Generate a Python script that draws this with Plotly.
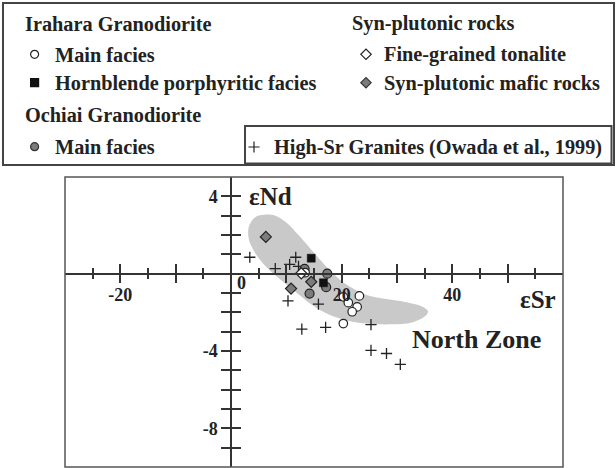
import plotly.graph_objects as go

# ---------------- data ----------------
irahara_main_x = [13.4, 20.3, 23.2, 21.2, 22.8, 21.9, 20.3]
irahara_main_y = [0.05, -1.2, -1.15, -1.5, -1.72, -1.97, -2.58]

hbl_porph_x = [14.5, 16.7]
hbl_porph_y = [0.8, -0.47]

ochiai_main_x = [13.3, 17.4, 17.2, 14.2]
ochiai_main_y = [0.25, 0.0, -0.7, -1.03]

tonalite_x = [12.7]
tonalite_y = [0.02]

mafic_x = [6.3, 10.85, 14.5]
mafic_y = [1.9, -0.77, -0.42]

high_sr_x = [3.4, 8.0, 11.7, 10.6, 12.2, 10.3, 15.8, 12.8, 17.1, 25.3, 25.3, 28.1, 30.6]
high_sr_y = [0.85, 0.26, 0.85, 0.48, 0.38, -1.41, -1.58, -2.87, -2.78, -2.64, -3.97, -4.13, -4.69]

# North Zone field outline
zone_x = [6.0, 8.0, 10.0, 12.2, 14.8, 17.6, 20.5, 24.5, 27.7, 31.5, 34.5, 35.6, 35.0, 32.7,
          29.0, 24.0, 20.5, 17.5, 15.0, 12.0, 8.8, 6.2, 4.3, 3.2, 3.3, 4.5, 6.0]
zone_y = [3.05, 3.0, 2.65, 2.0, 1.15, 0.25, -0.5, -1.1, -1.3, -1.47, -1.7, -1.95, -2.22, -2.52,
          -2.62, -2.57, -2.38, -2.08, -1.68, -1.02, -0.27, 0.4, 1.1, 1.8, 2.5, 2.95, 3.05]

x_major = [-20, -10, 10, 20, 30, 40, 50]
x_major_text = ["-20", "", "", "20", "", "40", ""]
x_minor = [-25, -15, -5, 5, 15, 25, 35, 45, 55]
y_major = [-8, -4, 4]
y_major_text = ["-8", "-4", "4"]
y_minor = [-9, -7, -6, -5, -3, -2, -1, 1, 2, 3]

# ---------------- layout geometry ----------------
W, H = 616, 468
plot_left, plot_right, plot_top, plot_bottom = 65, 563, 177, 467
xr = [-30, 60]
yr = [-10, 5]
xdom = [plot_left / W, plot_right / W]
ydom = [(H - plot_bottom) / H, (H - plot_top) / H]
xaxis_pos = ydom[0] + (0 - yr[0]) / (yr[1] - yr[0]) * (ydom[1] - ydom[0])
yaxis_pos = xdom[0] + (0 - xr[0]) / (xr[1] - xr[0]) * (xdom[1] - xdom[0])

FONT = "Liberation Serif"
TXT = "#222222"
AX = "#333333"
GREY = "#7c7c7c"

fig = go.Figure()

# shaded field
fig.add_trace(go.Scatter(x=zone_x, y=zone_y, mode="lines", fill="toself",
                         fillcolor="#c9c9c9", line=dict(color="rgba(0,0,0,0)", width=0, shape="spline", smoothing=1.0),
                         hoverinfo="skip", showlegend=False))

def pts(x, y, symbol, color, size, lcolor="#222", lw=1.2):
    return go.Scatter(x=x, y=y, mode="markers", showlegend=False,
                      marker=dict(symbol=symbol, color=color, size=size,
                                  line=dict(color=lcolor, width=lw)))

fig.add_trace(pts(high_sr_x, high_sr_y, "cross-thin", "#222", 8, "#222", 1.3))
fig.add_trace(pts(mafic_x, mafic_y, "diamond", GREY, 8.5))
fig.add_trace(pts(ochiai_main_x, ochiai_main_y, "circle", GREY, 9))
fig.add_trace(pts(hbl_porph_x, hbl_porph_y, "square", "#111", 8, "#111", 0.5))
fig.add_trace(pts(irahara_main_x, irahara_main_y, "circle", "white", 8.5))
fig.add_trace(pts(tonalite_x, tonalite_y, "diamond", "white", 8.5))

# dummy trace to register second (mirror) axes
fig.add_trace(go.Scatter(x=[None], y=[None], xaxis="x2", yaxis="y2", showlegend=False, hoverinfo="skip"))

# ---------------- legend block ----------------
leg_sym_x = [34.6, 34.6, 34.6, 366, 366, 254]
leg_sym_y = [54.3, 82.7, 146.7, 54.3, 82.7, 147]
leg_symbols = ["circle", "square", "circle", "diamond", "diamond", "cross-thin"]
leg_colors = ["white", "#111", GREY, "white", GREY, "#222"]
leg_lines = ["#222", "#111", "#333", "#222", "#333", "#222"]
fig.add_trace(go.Scatter(x=leg_sym_x, y=leg_sym_y, xaxis="x3", yaxis="y3", mode="markers",
                         showlegend=False, hoverinfo="skip",
                         marker=dict(symbol=leg_symbols, color=leg_colors, size=8,
                                     line=dict(color=leg_lines, width=1.2))))

leg_texts = [
    ("Irahara Granodiorite", 23, 23.5),
    ("Main facies", 53, 54.5),
    ("Hornblende porphyritic facies", 53, 83),
    ("Ochiai Granodiorite", 23, 115),
    ("Main facies", 53, 147),
    ("Syn-plutonic rocks", 349.5, 23.5),
    ("Fine-grained tonalite", 382, 54.5),
    ("Syn-plutonic mafic rocks", 382, 83),
    ("High-Sr Granites (Owada et al., 1999)", 271.5, 147),
]

annotations = []
for t, px, py in leg_texts:
    annotations.append(dict(text=t, xref="paper", yref="paper", x=px / W, y=1 - py / H,
                            xanchor="left", yanchor="middle", showarrow=False,
                            font=dict(family=FONT, size=20.3, color=TXT, weight="bold")))

# axis titles and field label (data coordinates)
annotations += [
    dict(text="εNd", x=7.05, y=4.0, xref="x", yref="y", showarrow=False,
         font=dict(family=FONT, size=25, color=TXT, weight="bold")),
    dict(text="εSr", x=55.4, y=-1.36, xref="x", yref="y", showarrow=False,
         font=dict(family=FONT, size=25, color=TXT, weight="bold")),
    dict(text="North Zone", x=44.4, y=-3.39, xref="x", yref="y", showarrow=False,
         font=dict(family=FONT, size=26, color=TXT, weight="bold")),
    dict(text="0", x=1.93, y=-0.46, xref="x", yref="y", showarrow=False,
         font=dict(family=FONT, size=18, color=TXT, weight="bold")),
]

shapes = [
    dict(type="rect", xref="paper", yref="paper", x0=xdom[0], x1=xdom[1], y0=ydom[0], y1=ydom[1],
         line=dict(color="#555", width=1.5), layer="above"),
    dict(type="rect", xref="paper", yref="paper", x0=3 / W, x1=614 / W, y0=1 - 3 / H, y1=1 - 165 / H,
         line=dict(color="#444", width=2)),
    dict(type="rect", xref="paper", yref="paper", x0=245 / W, x1=611.5 / W, y0=1 - 126 / H, y1=1 - 163.5 / H,
         line=dict(color="#444", width=2)),
]

tickfont = dict(family=FONT, size=18, color=TXT, weight="bold")

xbase = dict(range=xr, domain=xdom, anchor="free", position=xaxis_pos, showline=True,
             linecolor=AX, linewidth=1.5, ticks="outside", tickmode="array", tickvals=x_major,
             ticklen=9, tickwidth=1.5, tickcolor=AX, showgrid=False, zeroline=False,
             minor=dict(tickmode="array", tickvals=x_minor, ticklen=5, tickwidth=1.5,
                        tickcolor=AX, ticks="outside", showgrid=False),
             fixedrange=True)
ybase = dict(range=yr, domain=ydom, anchor="free", position=yaxis_pos, showline=True,
             linecolor=AX, linewidth=1.5, ticks="outside", tickmode="array", tickvals=y_major,
             ticklen=9, tickwidth=1.5, tickcolor=AX, showgrid=False, zeroline=False,
             minor=dict(tickmode="array", tickvals=y_minor, ticklen=9, tickwidth=1.5,
                        tickcolor=AX, ticks="outside", showgrid=False),
             fixedrange=True)

fig.update_layout(
    width=W, height=H, autosize=False,
    margin=dict(l=0, r=0, t=0, b=0),
    paper_bgcolor="white", plot_bgcolor="rgba(0,0,0,0)",
    showlegend=False,
    xaxis=dict(**xbase, side="bottom", ticktext=x_major_text, tickfont=tickfont, ticklabelstandoff=-4),
    xaxis2=dict(**xbase, side="top", overlaying="x", showticklabels=False),
    yaxis=dict(**ybase, side="left", ticktext=y_major_text, tickfont=tickfont, ticklabelstandoff=0),
    yaxis2=dict(**ybase, side="right", overlaying="y", showticklabels=False),
    xaxis3=dict(domain=[0, 1], range=[0, W], anchor="y3", visible=False, fixedrange=True),
    yaxis3=dict(domain=[0, 1], range=[H, 0], anchor="x3", visible=False, fixedrange=True),
    annotations=annotations,
    shapes=shapes,
)

fig.write_html("out.html", config={"displayModeBar": False},
               post_script="document.body.style.margin='0';document.body.style.overflow='hidden';")
